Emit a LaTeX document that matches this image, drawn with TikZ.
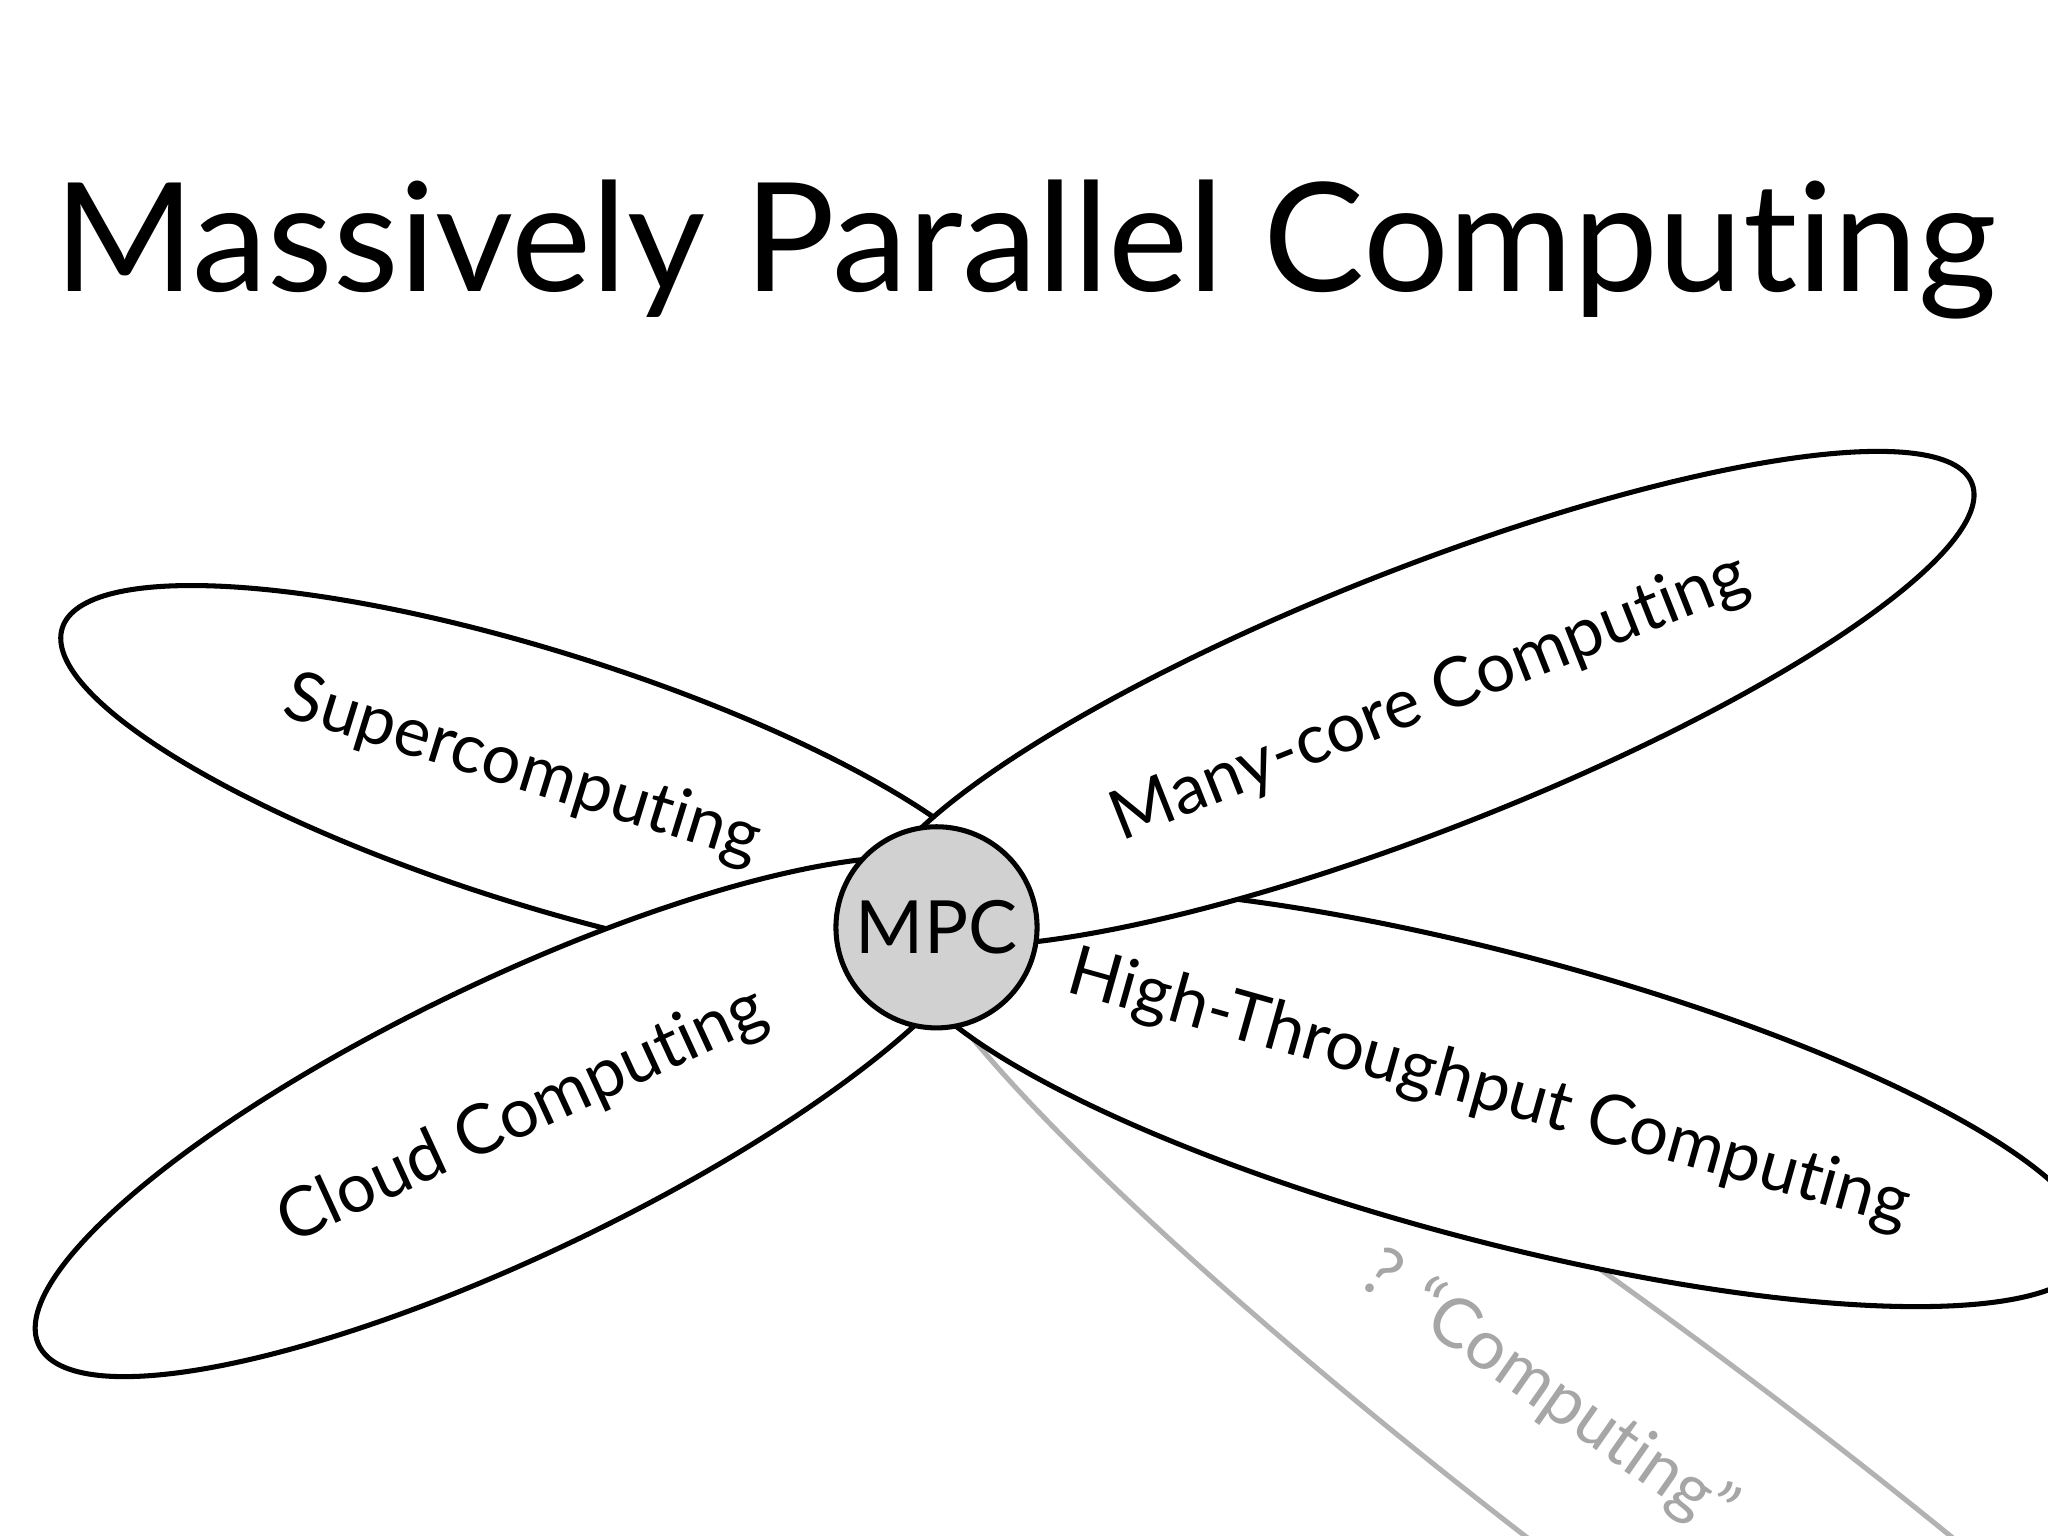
\documentclass[tikz,border=0pt]{standalone}
\usepackage{fontspec}
\setmainfont{Lato}[Ligatures=NoCommon]
\begin{document}
\begin{tikzpicture}[petal/.style={draw=black,line width=1.1pt,fill=white},
 lab/.style={font=\fontsize{15}{18}\selectfont}]
\useasboundingbox (0,0) rectangle (15.68,11.76);
\begin{scope}
\clip (0,0) rectangle (15.68,11.76);
\draw[petal,draw=black!30,rotate around={-37:(12.8,0.4)}] (12.8,0.4) ellipse (7.3 and 1.0);
\draw[petal,rotate around={-14.77:(11.45,3.36)}] (11.45,3.36) ellipse (4.71 and 1.1);
\draw[petal,rotate around={-17.44:(4.14,5.80)}] (4.14,5.80) ellipse (3.84 and 0.97);
\draw[petal,rotate around={25.6:(3.95,3.21)}] (3.95,3.21) ellipse (4.05 and 1.05);
\draw[petal,rotate around={21.45:(10.90,6.41)}] (10.90,6.41) ellipse (4.51 and 1.0);
\end{scope}
\node[draw,line width=1.1pt,fill=black!18,circle,minimum size=1.54cm,inner sep=0pt,font=\fontsize{16}{19}\selectfont] (mpc) at (7.17,4.66) {MPC};
\node[font=\fontsize{33}{38}\selectfont] (title) at (7.85,9.85) {Massively Parallel Computing};
\node[lab,rotate=-17.2] (sc) at (4.0,5.86) {Supercomputing};
\node[lab,rotate=21.6] (mc) at (10.95,6.41) {Many-core Computing};
\node[lab,rotate=-15.7] (ht) at (11.4,3.41) {High-Throughput Computing};
\node[lab,rotate=24.7] (cc) at (4.0,3.21) {Cloud Computing};
\node[lab,rotate=-35,text=black!35] (q) at (11.85,1.1) {? “Computing”};
\end{tikzpicture}
\end{document}
